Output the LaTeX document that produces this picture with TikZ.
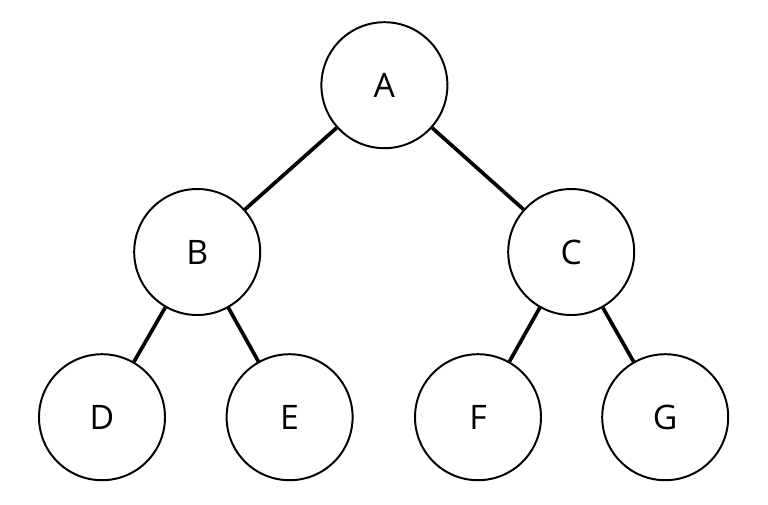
\documentclass[tikz,border=0pt]{standalone}
\usepackage{fontspec}
\setmainfont{Open Sans}
\usepackage{tikz}

\begin{document}
\begin{tikzpicture}[
	vertex/.style={draw,circle,line width=1.4pt,minimum size=3.15cm,inner sep=0pt,font=\fontsize{24}{24}\selectfont},
	branch/.style={line width=2.6pt}]
	\useasboundingbox (0,0) rectangle (19.2,-12.6);
	\node[vertex] (A) at (9.61,-2.13) {A};
	\node[vertex] (B) at (4.93,-6.3) {B};
	\node[vertex] (C) at (14.28,-6.3) {C};
	\node[vertex] (D) at (2.55,-10.43) {D};
	\node[vertex] (E) at (7.24,-10.43) {E};
	\node[vertex] (F) at (11.95,-10.43) {F};
	\node[vertex] (G) at (16.63,-10.43) {G};
	\draw[branch] (A)--(B);
	\draw[branch] (A)--(C);
	\draw[branch] (B)--(D);
	\draw[branch] (B)--(E);
	\draw[branch] (C)--(F);
	\draw[branch] (C)--(G);
\end{tikzpicture}
\end{document}
